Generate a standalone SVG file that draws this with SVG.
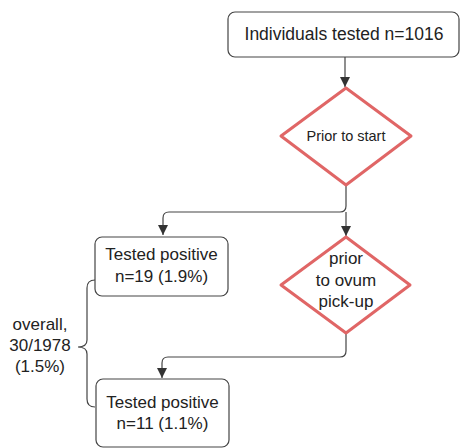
<svg xmlns="http://www.w3.org/2000/svg" width="460" height="448" viewBox="0 0 460 448">
<style>
text{font-family:"Liberation Sans",Arial,sans-serif;fill:#222;text-anchor:middle}
.box{fill:#fff;stroke:#444;stroke-width:1.2}
.dia{fill:#fff;stroke:#e06666;stroke-width:3;stroke-linejoin:round}
.con{fill:none;stroke:#444;stroke-width:1.2}
</style>
<defs>
<marker id="ah" viewBox="0 0 10 10" refX="10" refY="5" markerWidth="10" markerHeight="10" markerUnits="userSpaceOnUse" orient="auto">
<path d="M0,0 L10,5 L0,10 z" fill="#333"/>
</marker>
</defs>
<rect width="460" height="448" fill="#fff"/>
<g id="connectors">
<path class="con" d="M345,57 V87" marker-end="url(#ah)"/>
<path class="con" d="M346,185 V206 Q346,212 340,212 H169 Q163,212 163,218 V235" marker-end="url(#ah)"/>
<path class="con" d="M346,212 V236" marker-end="url(#ah)"/>
<path class="con" d="M346,333 V351 Q346,357 340,357 H168 Q162,357 162,363 V378" marker-end="url(#ah)"/>
<path id="brace" class="con" d="M95,280 Q87,280 87,288 V340 Q87,347 78,347 Q87,347 87,354 V399 Q87,407 95,407"/>
</g>
<g id="n1">
<rect class="box" x="228" y="12" width="231" height="45" rx="7"/>
<text x="344" y="40" font-size="17.5">Individuals tested n=1016</text>
</g>
<g id="d1">
<path class="dia" d="M346,88 L411,136 L346,185 L281,136 Z"/>
<text x="346" y="141" font-size="14.5">Prior to start</text>
</g>
<g id="n2">
<rect class="box" x="95" y="237" width="133" height="59" rx="7"/>
<text x="161.5" y="260" font-size="17">Tested positive</text>
<text x="161.5" y="282" font-size="17">n=19 (1.9%)</text>
</g>
<g id="d2">
<path class="dia" d="M346,237 L410,285 L346,333 L281,285 Z"/>
<text x="346" y="264" font-size="17">prior</text>
<text x="346" y="286" font-size="17">to ovum</text>
<text x="346" y="307" font-size="17">pick-up</text>
</g>
<g id="n3">
<rect class="box" x="96" y="379" width="133" height="68" rx="7"/>
<text x="162.5" y="408" font-size="17">Tested positive</text>
<text x="162.5" y="429" font-size="17">n=11 (1.1%)</text>
</g>
<g id="label">
<text x="40" y="330" font-size="17">overall,</text>
<text x="40" y="351" font-size="17">30/1978</text>
<text x="40" y="372" font-size="17">(1.5%)</text>
</g>
</svg>
